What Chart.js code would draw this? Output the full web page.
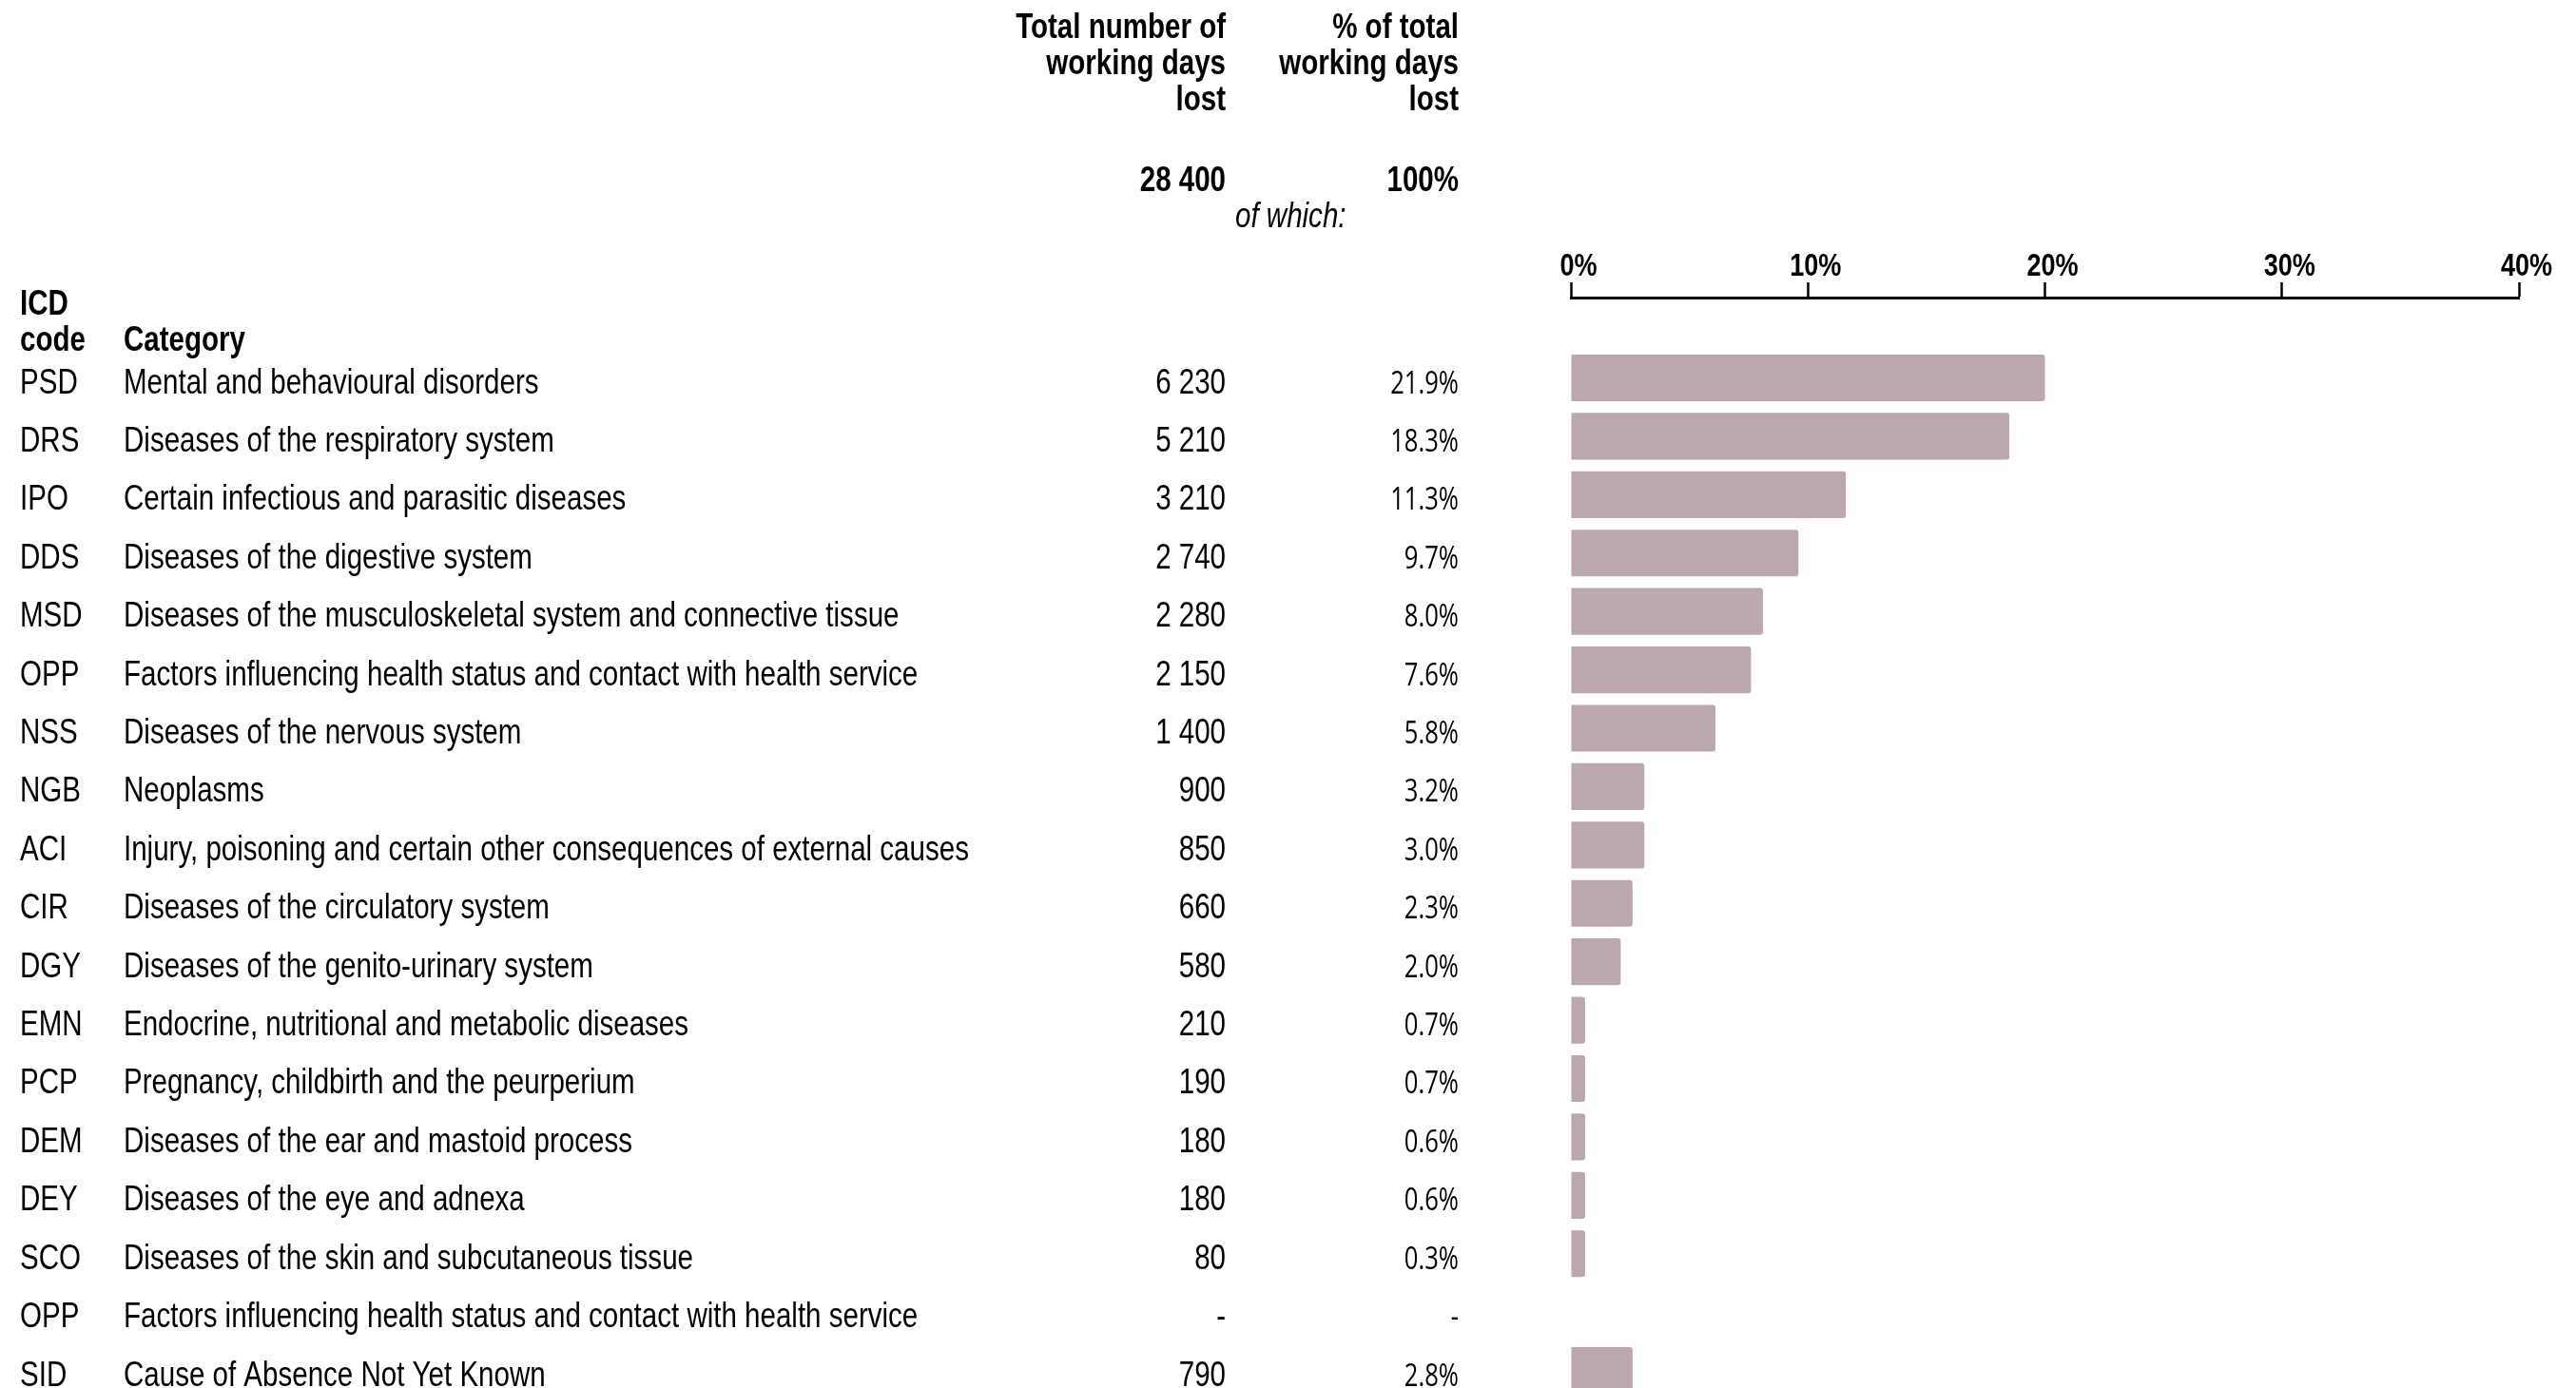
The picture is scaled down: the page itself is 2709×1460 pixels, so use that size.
<!DOCTYPE html>
<html lang="en">

<head>
    <meta charset="UTF-8">
    <title>Working days lost by ICD category</title>
    <script src="https://cdn.jsdelivr.net/npm/chart.js"></script>
    <style>
        html, body { margin: 0; padding: 0; background: #fff; }
        #wrap { position: relative; width: 2709px; height: 1460px; }
    </style>
</head>

<body>
    <div id="wrap">
        <canvas id="daysChart"></canvas>
    </div>

    <script>
        // table data
        const codes = ['PSD', 'DRS', 'IPO', 'DDS', 'MSD', 'OPP', 'NSS', 'NGB', 'ACI', 'CIR', 'DGY', 'EMN', 'PCP', 'DEM', 'DEY', 'SCO', 'OPP', 'SID'];
        const categories = [
            'Mental and behavioural disorders',
            'Diseases of the respiratory system',
            'Certain infectious and parasitic diseases',
            'Diseases of the digestive system',
            'Diseases of the musculoskeletal system and connective tissue',
            'Factors influencing health status and contact with health service',
            'Diseases of the nervous system',
            'Neoplasms',
            'Injury, poisoning and certain other consequences of external causes',
            'Diseases of the circulatory system',
            'Diseases of the genito-urinary system',
            'Endocrine, nutritional and metabolic diseases',
            'Pregnancy, childbirth and the peurperium',
            'Diseases of the ear and mastoid process',
            'Diseases of the eye and adnexa',
            'Diseases of the skin and subcutaneous tissue',
            'Factors influencing health status and contact with health service',
            'Cause of Absence Not Yet Known'
        ];
        const daysLost = [6230, 5210, 3210, 2740, 2280, 2150, 1400, 900, 850, 660, 580, 210, 190, 180, 180, 80, null, 790];
        const pctLost = [21.9, 18.3, 11.3, 9.7, 8.0, 7.6, 5.8, 3.2, 3.0, 2.3, 2.0, 0.7, 0.7, 0.6, 0.6, 0.3, null, 2.8];
        // bar lengths as drawn in the chart (%)
        const barValues = [20.0, 18.5, 11.6, 9.6, 8.1, 7.6, 6.1, 3.1, 3.1, 2.6, 2.1, 0.6, 0.6, 0.6, 0.6, 0.6, null, 2.6];
        const totalDays = 28400;
        const totalPct = '100%';
        const xTicks = [0, 10, 20, 30, 40];

        const SX = 0.82; // narrow look for the Arial-type text
        const fmtDays = n => n == null ? '-' : String(n).replace(/\B(?=(\d{3})+(?!\d))/g, ' ');
        const fmtPct = p => p == null ? '-' : p.toFixed(1) + '%';

        function txt(ctx, s, x, y, font, align, sx) {
            ctx.save();
            ctx.font = font;
            ctx.textAlign = align;
            ctx.textBaseline = 'alphabetic';
            ctx.fillStyle = '#000';
            ctx.translate(x, y);
            ctx.scale(sx || SX, 1);
            ctx.fillText(s, 0, 0);
            ctx.restore();
        }

        const AR = '"Liberation Sans", Arial, sans-serif';

        const tablePlugin = {
            id: 'tableText',
            afterDraw(chart) {
                const ctx = chart.ctx;
                const x = chart.scales.x;
                const y = chart.scales.y;
                const bold = 'bold 36px ' + AR;
                const reg = '36px ' + AR;

                // axis tick labels, placed on the x scale
                x.ticks.forEach(t => txt(ctx, t.value + '%', x.getPixelForValue(t.value) + 8, 290, 'bold 33px ' + AR, 'center'));

                // column headers
                ['Total number of', 'working days', 'lost'].forEach((s, k) => txt(ctx, s, 1289, 40 + k * 38, bold, 'right'));
                ['% of total', 'working days', 'lost'].forEach((s, k) => txt(ctx, s, 1534, 40 + k * 38, bold, 'right'));
                txt(ctx, fmtDays(totalDays), 1289, 201, bold, 'right');
                txt(ctx, totalPct, 1534, 201, bold, 'right');
                txt(ctx, 'of which:', 1299, 239, 'italic 36px ' + AR, 'left');
                txt(ctx, 'ICD', 21, 331, bold, 'left');
                txt(ctx, 'code', 21, 369, bold, 'left');
                txt(ctx, 'Category', 130, 369, bold, 'left');

                codes.forEach((c, i) => {
                    const base = y.getPixelForValue(i) + 16;
                    txt(ctx, c, 21, base, reg, 'left');
                    txt(ctx, categories[i], 130, base, reg, 'left');
                    txt(ctx, fmtDays(daysLost[i]), 1289, base, reg, 'right');
                    txt(ctx, fmtPct(pctLost[i]), 1534, base, '32px "Open Sans", sans-serif', 'right', 0.8);
                });
            }
        };

        const ctx = document.getElementById('daysChart').getContext('2d');
        new Chart(ctx, {
            type: 'bar',
            data: {
                datasets: [{
                    data: barValues.map((v, i) => ({ x: v, y: i })).filter(d => d.x != null),
                    backgroundColor: '#baa8ac',
                    borderWidth: 0,
                    borderRadius: 3,
                    borderSkipped: 'start',
                    barPercentage: 0.8,
                    categoryPercentage: 1
                }]
            },
            options: {
                indexAxis: 'y',
                responsive: true,
                maintainAspectRatio: false,
                animation: false,
                layout: { padding: { left: 1652, right: 60, top: 0, bottom: 0 } },
                plugins: { legend: { display: false }, tooltip: { enabled: false } },
                scales: {
                    x: {
                        type: 'linear',
                        position: 'top',
                        min: 0,
                        max: 40,
                        afterBuildTicks: s => { s.ticks = xTicks.map(v => ({ value: v })); },
                        afterFit: s => { s.height = 313; },
                        ticks: { display: false },
                        grid: {
                            drawOnChartArea: false,
                            drawTicks: true,
                            tickLength: 16,
                            tickWidth: 2.5,
                            tickColor: '#000'
                        },
                        border: { display: true, color: '#000', width: 3 }
                    },
                    y: {
                        type: 'linear',
                        display: false,
                        offset: false,
                        reverse: true,
                        min: -1.376,
                        max: 17.30
                    }
                }
            },
            plugins: [tablePlugin]
        });
    </script>
</body>

</html>
